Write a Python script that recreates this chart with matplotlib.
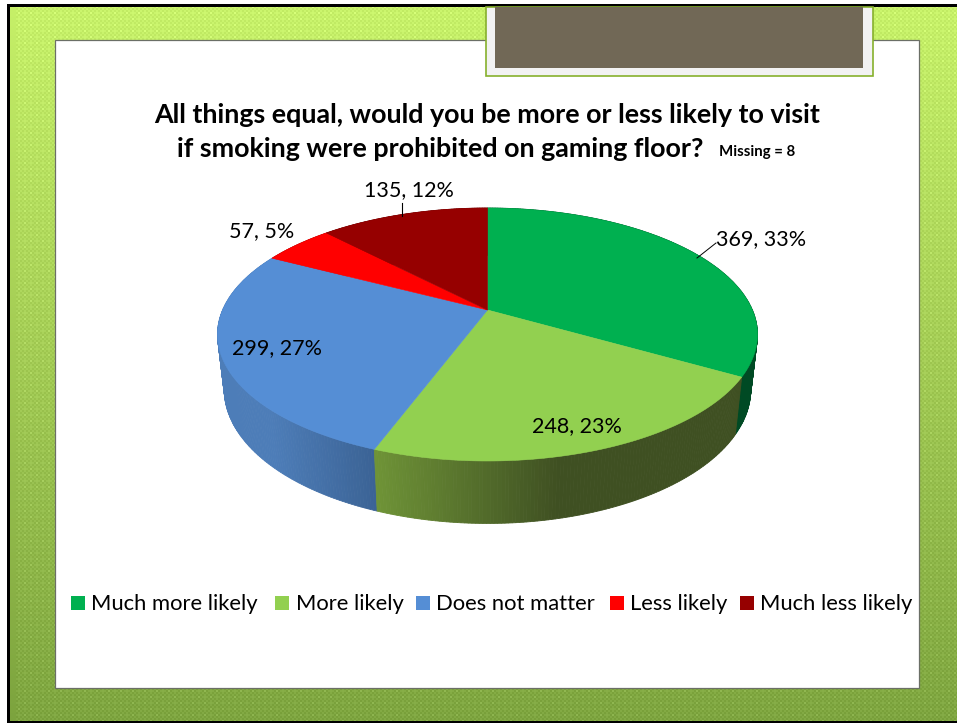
import numpy as np
import matplotlib
matplotlib.use("Agg")
import matplotlib.pyplot as plt
from matplotlib.patches import Rectangle, Polygon

plt.rcParams['font.family'] = ['Lato', 'DejaVu Sans']

categories = ["Much more likely", "More likely", "Does not matter", "Less likely", "Much less likely"]
counts = [369, 248, 299, 57, 135]
percents = [33, 23, 27, 5, 12]
title_lines = ["All things equal, would you be more or less likely to visit",
               "if smoking were prohibited on gaming floor?"]
note = "Missing = 8"

top_colors = ['#00b050', '#92d050', '#558ed5', '#ff0000', '#960000']
# side wall colours, (left end, right end)
side_colors = [('#00552a', '#004a24'), ('#6f9437', '#3f5022'), ('#4d7db8', '#3b6395'),
               ('#a00000', '#a00000'), ('#600000', '#600000')]

W, H = 957, 723
fig = plt.figure(figsize=(W / 100, H / 100), dpi=100)
ax = fig.add_axes([0, 0, 1, 1])
ax.set_xlim(0, W)
ax.set_ylim(H, 0)
ax.axis('off')


def background():
    yy, xx = np.mgrid[0:H, 0:W]
    t = np.clip((yy - 7) / 715, 0, 1)[..., None]
    base = (1 - t) * np.array([198, 240, 104]) + t * np.array([124, 163, 62])
    check = ((xx // 2 + yy // 2) % 2)[..., None]
    sparkle = (((xx // 2) % 3 == 0) & ((yy // 2) % 3 == 0))[..., None]
    mask = (xx > 15)[..., None]
    img = base + mask * (check * 10 + sparkle * 12 - 4)
    img = np.clip(img, 0, 255) / 255
    ax.imshow(img, extent=(0, W, H, 0), aspect='auto', zorder=0, interpolation='nearest')
    ax.set_xlim(0, W)
    ax.set_ylim(H, 0)


background()
# slide frame
ax.add_patch(Rectangle((0, 0), W, 4, fc='white', ec='none', zorder=1))
ax.add_patch(Rectangle((0, 0), 7, H, fc='white', ec='none', zorder=1))
ax.add_patch(Rectangle((7, 4), 3, H, fc='black', ec='none', zorder=1))
ax.add_patch(Rectangle((7, 4), W, 3, fc='black', ec='none', zorder=1))
ax.add_patch(Rectangle((7, 721), W, 2, fc='black', ec='none', zorder=1))
ax.add_patch(Rectangle((55, 39.5), 864, 648.5, fc='white', ec='#6b6f66', lw=0.9, zorder=2))
ax.add_patch(Rectangle((486, 7), 386.5, 68.5, fc='#f2f2f2', ec='#86b02c', lw=1.2, zorder=3))
ax.add_patch(Rectangle((495, 7), 368, 61, fc='#716856', ec='none', zorder=4))

# pie in perspective: circle (u, v) goes through a projective map
cx, cy = 487.5, 310
persp = -0.1937
ay = 121.75
ax_scale = 264.9
shrink = 0.975
drop = 53.4


def top_xy(ang):
    u, v = np.sin(ang), -np.cos(ang)
    w = 1 + persp * v
    return cx + ax_scale * u / w, cy + ay * v / w


def bottom_xy(ang):
    u, v = np.sin(ang), -np.cos(ang)
    w = 1 + persp * v
    return cx + shrink * ax_scale * u / w, cy + (shrink * ay * v + drop) / w


fractions = np.array(counts) / sum(counts)
edges = np.concatenate([[0], np.cumsum(fractions)]) * 2 * np.pi

# side wall first, back to front
walls = []
for i in range(len(counts)):
    angs = np.linspace(edges[i], edges[i + 1], max(int(counts[i] / 2), 8))
    for a0, a1 in zip(angs[:-1], angs[1:]):
        walls.append((-np.cos((a0 + a1) / 2), i, a0, a1))
walls.sort()
for v, i, a0, a1 in walls:
    x0, y0 = top_xy(a0)
    x1, y1 = top_xy(a1)
    x2, y2 = bottom_xy(a1)
    x3, y3 = bottom_xy(a0)
    xa, ya = top_xy(edges[i])
    xb, yb = top_xy(edges[i + 1])
    lo, hi = min(xa, xb), max(xa, xb)
    f = np.clip(((x0 + x1) / 2 - lo) / max(hi - lo, 1), 0, 1)
    if i == 1:
        f = min(f / 0.5, 1)
    c0 = np.array(matplotlib.colors.to_rgb(side_colors[i][0]))
    c1 = np.array(matplotlib.colors.to_rgb(side_colors[i][1]))
    col = (1 - f) * c0 + f * c1
    ax.add_patch(Polygon([(x0, y0), (x1, y1), (x2, y2), (x3, y3)], closed=True,
                         fc=col, ec=col, lw=0.6, zorder=5))

for i in range(len(counts)):
    angs = np.linspace(edges[i], edges[i + 1], 120)
    xs, ys = top_xy(angs)
    pts = [(cx, cy)] + list(zip(xs, ys))
    ax.add_patch(Polygon(pts, closed=True, fc=top_colors[i], ec=top_colors[i], lw=0.4, zorder=6))

# data labels
label_pos = [(761, 239.5), (577, 426.5), (277.5, 348.5), (261.5, 231.5), (408.5, 190.5)]
for n, p, pos in zip(counts, percents, label_pos):
    ax.text(pos[0], pos[1], f"{n}, {p}%", ha='center', va='center', fontsize=15.5,
            color='black', zorder=8)
ax.plot([716, 697], [243, 258], color='black', lw=0.7, zorder=7)
ax.plot([402, 402], [203, 216], color='black', lw=0.8, zorder=7)

# title
ax.text(487, 115, title_lines[0], ha='center', va='center', fontsize=19.4, fontweight='bold', zorder=8)
ax.text(177, 149, title_lines[1], ha='left', va='center', fontsize=19.4, fontweight='bold', zorder=8)
ax.text(719, 152, note, ha='left', va='center', fontsize=10.8, fontweight='bold', zorder=8)

# legend
legend_box_x = [71, 275, 416, 610, 740]
legend_text_x = [91, 296, 436, 630, 760]
for name, col, bx, tx in zip(categories, top_colors, legend_box_x, legend_text_x):
    ax.add_patch(Rectangle((bx, 596), 14, 14, fc=col, ec='none', zorder=8))
    ax.text(tx, 604, name, ha='left', va='center', fontsize=15.8, zorder=8)

fig.savefig("out.png", dpi=100)
